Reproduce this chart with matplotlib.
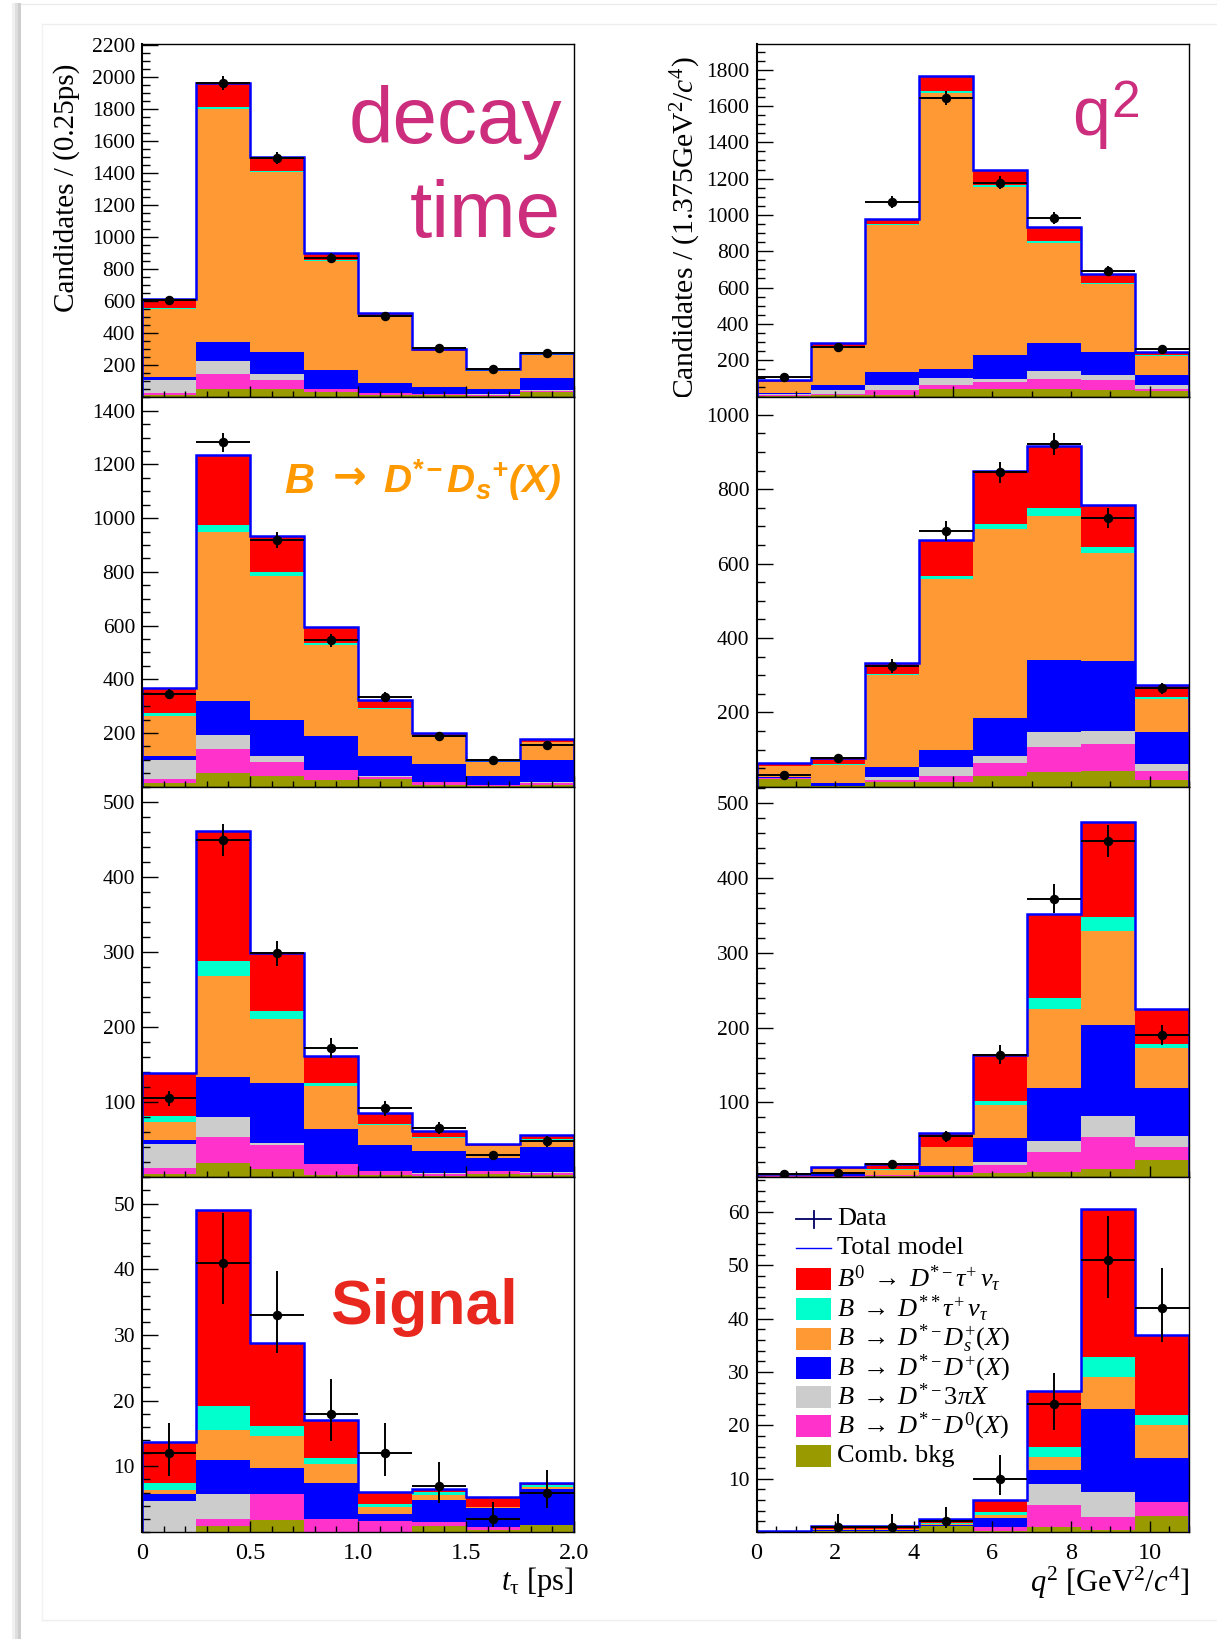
import numpy as np
import matplotlib
matplotlib.use("Agg")
import matplotlib.pyplot as plt
from matplotlib.transforms import Affine2D, Bbox, TransformedBbox
from matplotlib.patches import Rectangle
from matplotlib.lines import Line2D
from matplotlib.ticker import MultipleLocator, FixedLocator, FixedFormatter

plt.rcParams.update({
    "font.family": ["Liberation Serif", "DejaVu Serif"],
    "mathtext.fontset": "custom",
    "mathtext.rm": "Liberation Serif",
    "mathtext.it": "Liberation Serif:italic",
    "mathtext.bf": "Liberation Sans:italic:bold",
})

# ---------------------------------------------------------------- data
t_edges = [0.0, 0.25, 0.5, 0.75, 1.0, 1.25, 1.5, 1.75, 2.0]
q2_edges = [0.0, 1.375, 2.75, 4.125, 5.5, 6.875, 8.25, 9.625, 11.0]

# stack order, bottom -> top
components = ["Comb. bkg", "D*-D0(X)", "D*-3piX", "D*-D+(X)", "D*-Ds+(X)", "D**tau nu", "D*-tau nu"]
colors = ["#999900", "#FF33CC", "#CCCCCC", "#0000FF", "#FF9933", "#00FFCC", "#FF0000"]

# decay-time fits, one row per component (bottom -> top)
tau_all_parts = [
    [10, 50, 48, 27, 10, 8, 4, 28],
    [15, 93, 53, 21, 12, 8, 6, 8],
    [80, 80, 38, 2, 3, 2, 3, 2],
    [20, 120, 141, 116, 60, 42, 35, 78],
    [425, 1455, 1126, 680, 420, 222, 112, 145],
    [5, 12, 6, 5, 3, 3, 3, 2],
    [55, 150, 85, 45, 13, 14, 12, 10],
]
tau_all_data = [605, 1962, 1490, 868, 505, 305, 175, 270]
tau_all_err = [25, 44, 38, 30, 22, 17, 13, 16]

tau_ds_parts = [
    [14, 51, 41, 26, 28, 8, 3, 7],
    [16, 90, 50, 35, 8, 8, 4, 6],
    [68, 53, 22, 3, 3, 2, 1, 3],
    [15, 124, 136, 126, 74, 66, 30, 84],
    [151, 632, 534, 338, 176, 103, 54, 65],
    [9, 25, 15, 7, 3, 3, 2, 3],
    [94, 261, 137, 58, 29, 10, 6, 9],
]
tau_ds_data = [346, 1282, 919, 545, 334, 187, 100, 154]
tau_ds_err = [18, 36, 30, 23, 18, 14, 10, 12]

tau_mid_parts = [
    [4, 18.5, 10.5, 2.5, 2.5, 2, 5, 3],
    [9, 35, 32, 14.7, 5.8, 3, 3, 3],
    [31, 27, 3.5, 0.5, 0.5, 0.5, 0.3, 0.5],
    [6, 53, 79, 46, 33.6, 30, 18, 34],
    [23, 135, 86, 58, 26.6, 17, 15.2, 9],
    [8, 20, 11, 3.6, 1.5, 1.5, 0.5, 1.5],
    [58, 172.5, 76, 36.4, 15.5, 8, 2, 4.7],
]
tau_mid_data = [105, 449, 298, 172, 92, 66, 30, 48]
tau_mid_err = [10, 21, 17, 13, 10, 8, 5.5, 7]

tau_sig_parts = [
    [0, 0.95, 1.9, 0, 0, 0.95, 0.28, 1.0],
    [0, 1.0, 3.95, 2.05, 1.7, 0.6, 0.5, 0],
    [4.7, 3.9, 0, 0, 0, 0, 0, 0],
    [1.05, 5.05, 3.9, 5.4, 1.0, 3.35, 2.9, 5.5],
    [0.6, 4.6, 4.85, 2.95, 1.1, 0.7, 0.1, 0.4],
    [1.15, 3.7, 1.5, 0.9, 0.5, 0.5, 0.05, 0.2],
    [6.2, 29.8, 12.6, 5.7, 1.8, 0.5, 1.5, 0.4],
]
tau_sig_data = [12, 41, 33, 18, 12, 7, 2, 6]
tau_sig_err_up = [4.6, 7.5, 6.8, 5.3, 4.6, 3.7, 2.6, 3.5]
tau_sig_err_dn = [3.4, 6.3, 5.7, 4.2, 3.4, 2.6, 1.3, 2.4]

# q2 fits
q2_all_parts = [
    [3, 8, 11, 42, 42, 42, 35, 29],
    [6, 8, 27.5, 24, 37, 55, 55, 13],
    [5, 20, 23.5, 37, 20, 46, 26, 24],
    [8, 26, 74, 51, 132, 152, 130, 51],
    [58, 203, 807, 1518, 923, 551, 371, 105],
    [1, 4, 5, 10, 9, 9, 9, 4],
    [9, 23, 30, 85, 86, 79, 51, 18],
]
q2_all_data = [106, 272, 1070, 1644, 1178, 983, 692, 259]
q2_all_err = [10, 16, 33, 40, 34, 31, 26, 16]

q2_ds_parts = [
    [20, 2, 12, 13, 29, 40, 42, 19],
    [3, 1, 6, 16, 36, 68, 73, 24],
    [1, 0, 8, 23, 18, 40, 34, 19],
    [1, 7, 26, 48, 102, 192, 189, 84],
    [30, 49, 249, 459, 508, 387, 290, 90],
    [1, 1, 2, 8, 14, 21, 16, 5],
    [6.5, 17, 30, 95, 141, 167, 112, 33.5],
]
q2_ds_data = [32.5, 77, 325, 687, 845, 921, 722, 264]
q2_ds_err = [6, 9, 18, 26, 29, 30, 27, 16]

q2_mid_parts = [
    [1, 1, 1.5, 3.3, 5.6, 6.5, 10.9, 23.4],
    [0.5, 0.5, 1, 3.2, 11.1, 26.7, 42.3, 16.9],
    [0, 0.5, 0.5, 0.5, 3.1, 14.7, 29, 15.2],
    [0.5, 4.5, 0.5, 8.4, 32.5, 71.1, 121.1, 63.5],
    [1.5, 4.5, 6.7, 24.6, 43.7, 105.7, 126.5, 53.6],
    [0, 0.3, 0.3, 0.8, 5.3, 14.7, 18.7, 5.8],
    [0.7, 2.3, 7.5, 18.2, 62.7, 112.6, 126, 46.3],
]
q2_mid_data = [5, 6, 18, 55, 164, 372, 449, 190]
q2_mid_err = [2.5, 2.5, 4.2, 7.4, 12.8, 19.3, 21.2, 13.8]

q2_sig_parts = [
    [0, 0.1, 0.1, 1.1, 0.1, 0.94, 0.4, 2.94],
    [0, 0.1, 0.1, 0.1, 0.8, 4.16, 2.4, 2.62],
    [0, 0, 0, 0, 0.1, 3.9, 4.64, 0],
    [0.1, 0.2, 0.1, 0.1, 1.6, 2.7, 15.66, 8.34],
    [0, 0.1, 0.2, 0.2, 0.6, 2.4, 6.0, 6.2],
    [0, 0, 0.05, 0.1, 0.5, 1.8, 3.65, 1.9],
    [0.1, 0.7, 0.65, 0.9, 2.36, 10.5, 27.85, 15.0],
]
q2_sig_data = [np.nan, 1, 1, 2, 10, 24, 51, 42]
q2_sig_err_up = [0, 2.3, 2.3, 2.6, 4.4, 5.9, 8.2, 7.5]
q2_sig_err_dn = [0, 0.8, 0.8, 1.3, 3.1, 4.9, 7.1, 6.4]

# ---------------------------------------------------------------- layout (pixels)
W, H = 1217, 1639
fig = plt.figure(figsize=(W / 100, H / 100), dpi=100)
PX = Affine2D().scale(1.0 / W, -1.0 / H).translate(0, 1) + fig.transFigure

col_x = [142, 756.5]
col_w = [432, 432.5]
row_top = [44.3, 396.5, 786.7, 1177.3]
row_bot = [396.5, 786.7, 1177.3, 1532.0]


def add_ax(col, row):
    x0 = col_x[col] / W
    y0 = 1 - row_bot[row] / H
    return fig.add_axes([x0, y0, col_w[col] / W, (row_bot[row] - row_top[row]) / H])


def draw_panel(ax, edges, parts, data, dn, up):
    edges = np.asarray(edges, float)
    cum = np.cumsum(np.asarray(parts, float), axis=0)
    for k in range(cum.shape[0] - 1, -1, -1):
        ax.stairs(cum[k], edges, baseline=0, fill=True, color=colors[k], lw=0, zorder=1)
    ax.stairs(cum[-1], edges, baseline=0, fill=False, color="#0000FF", lw=1.8, zorder=2)
    centers = 0.5 * (edges[1:] + edges[:-1])
    half = 0.5 * (edges[1:] - edges[:-1])
    data = np.asarray(data, float)
    ok = np.isfinite(data)
    ax.errorbar(centers[ok], data[ok], xerr=half[ok],
                yerr=[np.asarray(dn, float)[ok], np.asarray(up, float)[ok]],
                fmt="o", ms=5.8, color="black", ecolor="black", elinewidth=1.4,
                capsize=0, zorder=5)


def style_axes(ax, xlim, ylim, ystep, yminor, ytop, xmajor, xminor, show_x):
    ax.set_xlim(*xlim)
    ax.set_ylim(0, ylim)
    ax.yaxis.set_major_locator(FixedLocator(np.arange(ystep, ytop + 1e-6, ystep)))
    ax.yaxis.set_minor_locator(MultipleLocator(yminor))
    ax.xaxis.set_major_locator(MultipleLocator(xmajor))
    ax.xaxis.set_minor_locator(MultipleLocator(xminor))
    ax.tick_params(axis="y", which="major", direction="in", length=11.5, width=1.0,
                   labelsize=15.5, pad=5, right=False)
    ax.tick_params(axis="y", which="minor", direction="in", length=5.8, width=1.0, right=False)
    ax.tick_params(axis="x", which="major", direction="in", length=8, width=1.0,
                   labelsize=17.5, pad=8, top=False, labelbottom=show_x)
    ax.tick_params(axis="x", which="minor", direction="in", length=4.5, width=1.0, top=False)
    for side, sp in ax.spines.items():
        sp.set_linewidth(1.5 if side == "left" else 1.0)
        sp.set_color("black")
        sp.set_zorder(6)


left_panels = [
    (tau_all_parts, tau_all_data, tau_all_err, tau_all_err, 2203, 200, 50, 2200),
    (tau_ds_parts, tau_ds_data, tau_ds_err, tau_ds_err, 1453, 200, 50, 1400),
    (tau_mid_parts, tau_mid_data, tau_mid_err, tau_mid_err, 520, 100, 20, 500),
    (tau_sig_parts, tau_sig_data, tau_sig_err_dn, tau_sig_err_up, 54, 10, 2, 50),
]
right_panels = [
    (q2_all_parts, q2_all_data, q2_all_err, q2_all_err, 1940, 200, 50, 1800),
    (q2_ds_parts, q2_ds_data, q2_ds_err, q2_ds_err, 1049, 200, 50, 1000),
    (q2_mid_parts, q2_mid_data, q2_mid_err, q2_mid_err, 522, 100, 20, 500),
    (q2_sig_parts, q2_sig_data, q2_sig_err_dn, q2_sig_err_up, 66.5, 10, 2, 60),
]

for row in range(4):
    parts, data, dn, up, ymax, ystep, yminor, ytop = left_panels[row]
    ax = add_ax(0, row)
    draw_panel(ax, t_edges, parts, data, dn, up)
    style_axes(ax, (0, 2.0), ymax, ystep, yminor, ytop, 0.5, 0.1, row == 3)
    if row == 3:
        ax.xaxis.set_major_locator(FixedLocator([0, 0.5, 1.0, 1.5, 2.0]))
        ax.xaxis.set_major_formatter(FixedFormatter(["0", "0.5", "1.0", "1.5", "2.0"]))

    parts, data, dn, up, ymax, ystep, yminor, ytop = right_panels[row]
    ax = add_ax(1, row)
    draw_panel(ax, q2_edges, parts, data, dn, up)
    if row == 3:
        style_axes(ax, (0, 11.0), ymax, ystep, yminor, ytop, 2, 0.5, True)
    else:
        style_axes(ax, (0, 11.0), ymax, ystep, yminor, ytop, 5, 1, False)

# ---------------------------------------------------------------- axis titles
fig.text(67, 187.5, "Candidates / (0.25ps)", transform=PX, rotation=90,
         ha="center", va="center", fontsize=21)
ylab_r = fig.text(686, 56, r"Candidates / (1.375GeV$^2$/$c^4$)", transform=PX,
                  rotation=90, ha="center", va="top", fontsize=21.3)
ylab_r.set_clip_box(TransformedBbox(Bbox([[0, 1 - 396.5 / H], [1, 1]]), fig.transFigure))
ylab_r.set_clip_on(True)

fig.text(574, 1590, r"$t_{\mathrm{\tau}}$ [ps]", transform=PX, ha="right",
         va="baseline", fontsize=22)
fig.text(1189, 1592, r"$q^2$ [GeV$^2$/$c^4$]", transform=PX, ha="right",
         va="baseline", fontsize=22)

# ---------------------------------------------------------------- panel captions
pink = "#CC2E7D"
fig.text(562, 142.7, "decay", transform=PX, ha="right", va="baseline",
         fontsize=57.6, color=pink, family="Liberation Sans")
fig.text(561, 236.7, "time", transform=PX, ha="right", va="baseline",
         fontsize=57.6, color=pink, family="Liberation Sans")
fig.text(1072, 135, "q", transform=PX, ha="left", va="baseline",
         fontsize=49, color=pink, family="Liberation Sans")
fig.text(1111, 116.7, "2", transform=PX, ha="left", va="baseline",
         fontsize=37, color=pink, family="Liberation Sans")

orange = "#FF9900"
fig.text(284, 493, "B", transform=PX, ha="left", va="baseline", fontsize=30,
         color=orange, family="Liberation Sans", weight="bold", style="italic")
fig.text(350, 479, "\u2192", transform=PX, ha="center", va="center", fontsize=29,
         color=orange, family="DejaVu Sans", weight="bold")
fig.text(383, 493, r"$\mathbf{D^{*-}D_{s}{}^{+}(X)}$", transform=PX,
         ha="left", va="baseline", fontsize=28, color=orange)

fig.text(330, 1324, "Signal", transform=PX, ha="left", va="baseline",
         fontsize=45, color="#E8281E", family="Liberation Sans", weight="bold")

# ---------------------------------------------------------------- legend
leg_x0, leg_x1, text_x = 795.6, 831.4, 837
fig.add_artist(Line2D([leg_x0, leg_x1], [1219, 1219], transform=PX, color="#000066", lw=1.3, zorder=8))
fig.add_artist(Line2D([813.5, 813.5], [1211, 1228], transform=PX, color="#000066", lw=1.3, zorder=8))
fig.text(text_x, 1219, "Data", transform=PX, ha="left", va="center", fontsize=19, zorder=8)
fig.add_artist(Line2D([leg_x0, leg_x1], [1248.3, 1248.3], transform=PX, color="#0000FF", lw=1.0, zorder=8))
fig.text(text_x, 1248.3, "Total model", transform=PX, ha="left", va="center", fontsize=19, zorder=8)

legend_labels = [
    r"$B^0 \;\rightarrow\; D^{*-}\tau^{+}\,\nu_{\tau}$",
    r"$B \;\rightarrow\; D^{**}\tau^{+}\,\nu_{\tau}$",
    r"$B \;\rightarrow\; D^{*-}D_{s}^{+}(X)$",
    r"$B \;\rightarrow\; D^{*-}D^{+}(X)$",
    r"$B \;\rightarrow\; D^{*-}3\pi X$",
    r"$B \;\rightarrow\; D^{*-}D^{0}(X)$",
    "Comb. bkg",
]
legend_colors = [colors[6], colors[5], colors[4], colors[3], colors[2], colors[1], colors[0]]
row_y = [1279, 1309, 1338.5, 1368, 1397, 1426, 1456]
for lab, col, yc in zip(legend_labels, legend_colors, row_y):
    fig.add_artist(Rectangle((leg_x0, yc - 11), leg_x1 - leg_x0, 22, transform=PX,
                             facecolor=col, edgecolor="none", zorder=8))
    fig.text(text_x, yc, lab, transform=PX, ha="left", va="center", fontsize=19, zorder=8)

# ---------------------------------------------------------------- page frame
for x0, x1, c in [(12, 15, "#F0F0F0"), (15, 18, "#DEDEDE"), (18, 21, "#CDCDCD")]:
    fig.add_artist(Rectangle((x0, 3), x1 - x0, H, transform=PX, facecolor=c,
                             edgecolor="none", zorder=-5))
fig.add_artist(Line2D([21, W], [3.5, 3.5], transform=PX, color="#EBEBEB", lw=1.0, zorder=-5))
fig.add_artist(Line2D([42, W], [24, 24], transform=PX, color="#EEEEEE", lw=1.0, zorder=-5))
fig.add_artist(Line2D([42, W], [1620, 1620], transform=PX, color="#EEEEEE", lw=1.0, zorder=-5))
fig.add_artist(Line2D([42, 42], [24, 1620], transform=PX, color="#F2F2F2", lw=1.0, zorder=-5))

fig.savefig("out.png", dpi=100)
